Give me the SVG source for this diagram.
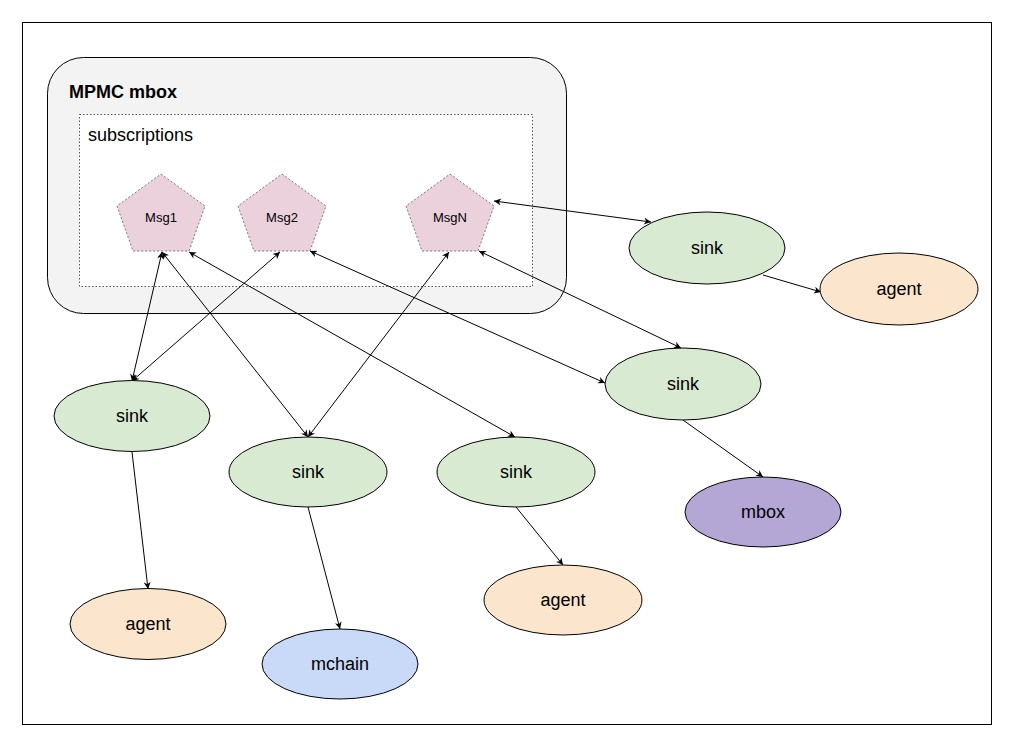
<svg xmlns="http://www.w3.org/2000/svg" width="1009" height="747" viewBox="0 0 1009 747">
<style>
.t{font-family:"Liberation Sans",Arial,sans-serif;fill:#000;text-anchor:middle}
.n{font-size:18px}
.m{font-size:13px}
.sink{fill:#d9ead3;stroke:#000;stroke-width:1}
.agent{fill:#fce5cd;stroke:#000;stroke-width:1}
.pent{fill:#ead1dc;stroke:#777;stroke-width:1;stroke-dasharray:2 2}
.c{stroke:#000;stroke-width:1;fill:none}
.one{marker-end:url(#ah)}
.two{marker-end:url(#ah);marker-start:url(#ah)}
</style>
<defs>
<marker id="ah" viewBox="0 0 10 10" refX="10" refY="5" markerWidth="8" markerHeight="7" markerUnits="userSpaceOnUse" orient="auto-start-reverse">
<path d="M0,0 L10,5 L0,10 L3,5 z" fill="#000"/>
</marker>
</defs>
<rect x="0" y="0" width="1009" height="747" fill="#fff"/>
<rect id="frame" x="22.5" y="22.5" width="969" height="702" fill="none" stroke="#000" stroke-width="1"/>
<g id="mpmc">
<rect x="47.5" y="57.5" width="519" height="256" rx="36" ry="36" fill="#f3f3f3" stroke="#000" stroke-width="1"/>
<text class="t" x="69" y="98" style="font-size:18px;font-weight:bold;text-anchor:start">MPMC mbox</text>
</g>
<g id="subscriptions">
<rect x="79.5" y="114.5" width="453" height="172" fill="#fff" stroke="#555" stroke-width="1" stroke-dasharray="1.5 2"/>
<text class="t n" x="88" y="141" style="text-anchor:start">subscriptions</text>
</g>
<g id="msg1">
<polygon class="pent" points="161,174 205,206 189,251 133,251 117,206"/>
<text class="t m" x="161" y="222">Msg1</text>
</g>
<g id="msg2">
<polygon class="pent" points="282,174 326,206 310,251 254,251 238,206"/>
<text class="t m" x="282" y="222">Msg2</text>
</g>
<g id="msgN">
<polygon class="pent" points="450,174 494,206 478,251 422,251 406,206"/>
<text class="t m" x="450" y="222">MsgN</text>
</g>
<g id="connectors">
<line class="c two" x1="494" y1="201" x2="651" y2="222"/>
<line class="c one" x1="763" y1="275" x2="821" y2="292"/>
<line class="c two" x1="479" y1="251" x2="681" y2="348"/>
<line class="c two" x1="310" y1="251" x2="605" y2="383"/>
<line class="c two" x1="189" y1="252" x2="515" y2="437"/>
<line class="c two" x1="162" y1="252" x2="132" y2="381"/>
<line class="c two" x1="162" y1="252" x2="308" y2="437"/>
<line class="c two" x1="280" y1="252" x2="132" y2="381"/>
<line class="c two" x1="449" y1="252" x2="308" y2="437"/>
<line class="c one" x1="132" y1="452" x2="148" y2="589"/>
<line class="c one" x1="308" y1="507" x2="340" y2="629"/>
<line class="c one" x1="516" y1="507" x2="563" y2="565"/>
<line class="c one" x1="683" y1="420" x2="763" y2="477"/>
</g>
<g id="sink_tr">
<ellipse class="sink" cx="707" cy="248" rx="78" ry="36"/>
<text class="t n" x="707" y="254">sink</text>
</g>
<g id="agent_r">
<ellipse class="agent" cx="899" cy="289" rx="79" ry="36"/>
<text class="t n" x="899" y="295">agent</text>
</g>
<g id="sink_rm">
<ellipse class="sink" cx="683" cy="384" rx="78" ry="36"/>
<text class="t n" x="683" y="390">sink</text>
</g>
<g id="mbox">
<ellipse cx="763" cy="512" rx="78" ry="35" fill="#b4a7d6" stroke="#000" stroke-width="1"/>
<text class="t n" x="763" y="518">mbox</text>
</g>
<g id="sink_l">
<ellipse class="sink" cx="132" cy="416" rx="78" ry="35.5"/>
<text class="t n" x="132" y="422">sink</text>
</g>
<g id="sink_c">
<ellipse class="sink" cx="308" cy="472" rx="79" ry="35"/>
<text class="t n" x="308" y="478">sink</text>
</g>
<g id="sink_m">
<ellipse class="sink" cx="516" cy="472" rx="79" ry="35"/>
<text class="t n" x="516" y="478">sink</text>
</g>
<g id="agent_l">
<ellipse class="agent" cx="148" cy="624" rx="78" ry="35.5"/>
<text class="t n" x="148" y="630">agent</text>
</g>
<g id="mchain">
<ellipse cx="340" cy="664" rx="78" ry="35" fill="#c9daf8" stroke="#000" stroke-width="1"/>
<text class="t n" x="340" y="670">mchain</text>
</g>
<g id="agent_m">
<ellipse class="agent" cx="563" cy="600" rx="79" ry="35"/>
<text class="t n" x="563" y="606">agent</text>
</g>
</svg>
